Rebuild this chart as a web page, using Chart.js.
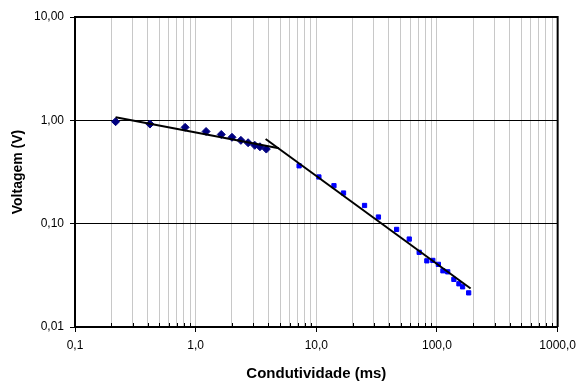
<!DOCTYPE html>
<html>
<head>
<meta charset="utf-8">
<script src="https://cdn.jsdelivr.net/npm/chart.js@4/dist/chart.umd.min.js"></script>
<style>
  html, body { margin: 0; padding: 0; background: #fff; }
  canvas { display: block; }
</style>
</head>
<body>
<canvas id="voltChart" width="582" height="385"></canvas>
<script>
// Measured points, first regime (dark diamonds)
const condA = [0.217, 0.418, 0.818, 1.22, 1.63, 2.0, 2.37, 2.72, 3.09, 3.41, 3.85];
const voltA = [0.97, 0.92, 0.855, 0.78, 0.73, 0.685, 0.64, 0.607, 0.573, 0.555, 0.527];

// Measured points, second regime (blue squares)
const condB = [7.2, 10.5, 14.0, 16.8, 25.1, 32.7, 46.3, 58.9, 71.2, 82.4, 92.3, 102.7, 112, 122.7, 138, 152, 163, 183];
const voltB = [0.363, 0.283, 0.233, 0.198, 0.150, 0.116, 0.088, 0.071, 0.0528, 0.0437, 0.0441, 0.0404, 0.035, 0.0342, 0.0289, 0.0262, 0.0245, 0.0214];

// Power trendline end points for each regime
const trendAx = [0.217, 4.9];
const trendAy = [1.07, 0.536];
const trendBx = [3.8, 190];
const trendBy = [0.659, 0.0236];

// Axis ticks and labels
const xMajor = [0.1, 1, 10, 100, 1000];
const xLabels = ["0,1", "1,0", "10,0", "100,0", "1000,0"];
const yMajor = [0.01, 0.1, 1, 10];
const yLabels = ["0,01", "0,10", "1,00", "10,00"];

function toPoints(xs, ys) {
  return xs.map(function (x, i) {
    return { x: x, y: ys[i] };
  });
}

// minor positions 2..9 inside each decade
const xMinor = [];
xMajor.slice(0, -1).forEach(function (d) {
  for (let k = 2; k <= 9; k++) xMinor.push(+(d * k).toPrecision(3));
});

function isMajor(list, v) {
  return list.some(function (m) {
    return Math.abs(Math.log10(m) - Math.log10(v)) < 1e-6;
  });
}

// frame on top/right and small inside ticks on the x axis
const framePlugin = {
  id: "frame",
  afterDraw: function (chart) {
    const ctx = chart.ctx;
    const a = chart.chartArea;
    const xs = chart.scales.x;
    ctx.save();
    ctx.strokeStyle = "#000";
    ctx.lineWidth = 1;
    ctx.beginPath();
    xMinor.forEach(function (v) {
      const px = Math.round(xs.getPixelForValue(v)) + 0.5;
      ctx.moveTo(px, a.bottom);
      ctx.lineTo(px, a.bottom - 4);
    });
    ctx.stroke();
    ctx.lineWidth = 2;
    ctx.beginPath();
    ctx.moveTo(a.left, a.top);
    ctx.lineTo(a.right, a.top);
    ctx.lineTo(a.right, a.bottom);
    ctx.stroke();
    ctx.restore();
  },
};

const ctx = document.getElementById("voltChart").getContext("2d");
const voltChart = new Chart(ctx, {
  type: "scatter",
  data: {
    datasets: [
      {
        data: toPoints(trendAx, trendAy),
        showLine: true,
        borderColor: "#000",
        borderWidth: 2,
        pointRadius: 0,
        order: 0,
      },
      {
        data: toPoints(trendBx, trendBy),
        showLine: true,
        borderColor: "#000",
        borderWidth: 2,
        pointRadius: 0,
        order: 0,
      },
      {
        data: toPoints(condA, voltA),
        pointStyle: "rectRot",
        pointRadius: 4,
        pointBorderWidth: 1,
        backgroundColor: "#000080",
        borderColor: "#000080",
        order: 1,
      },
      {
        data: toPoints(condB, voltB),
        pointStyle: "rect",
        pointRadius: 3,
        pointBorderWidth: 1,
        backgroundColor: "#0000ff",
        borderColor: "#0000ff",
        order: 1,
      },
    ],
  },
  options: {
    responsive: false,
    animation: false,
    events: [],
    layout: {
      padding: { left: 0, right: 23, top: 17, bottom: 0 },
    },
    plugins: {
      legend: { display: false },
      tooltip: { enabled: false },
    },
    scales: {
      x: {
        type: "logarithmic",
        min: 0.1,
        max: 1000,
        afterBuildTicks: function (scale) {
          scale.ticks = xMajor.concat(xMinor).sort(function (a, b) { return a - b; })
            .map(function (v) { return { value: v }; });
        },
        afterFit: function (scale) {
          scale.height = 58;
        },
        grid: {
          color: "#c8c8c8",
          lineWidth: 1,
          tickLength: 5,
          tickColor: function (c) {
            return isMajor(xMajor, c.tick.value) ? "#000" : "rgba(0,0,0,0)";
          },
        },
        border: { color: "#000", width: 2 },
        ticks: {
          autoSkip: false,
          maxRotation: 0,
          padding: 6,
          color: "#000",
          font: { family: "Liberation Sans", size: 12 },
          callback: function (value) {
            const i = xMajor.findIndex(function (m) { return isMajor([m], value); });
            return i >= 0 ? xLabels[i] : "";
          },
        },
        title: {
          display: true,
          text: "Condutividade (ms)",
          color: "#000",
          font: { family: "Liberation Sans", size: 15, weight: "bold" },
          padding: { top: 0, bottom: 2 },
        },
      },
      y: {
        type: "logarithmic",
        min: 0.01,
        max: 10,
        afterBuildTicks: function (scale) {
          scale.ticks = yMajor.map(function (v) { return { value: v }; });
        },
        afterFit: function (scale) {
          scale.width = 75;
        },
        grid: {
          color: "#000",
          lineWidth: 1,
          tickLength: 5,
          tickColor: "#000",
        },
        border: { color: "#000", width: 2 },
        ticks: {
          autoSkip: false,
          padding: 6,
          color: "#000",
          font: { family: "Liberation Sans", size: 12 },
          callback: function (value) {
            const i = yMajor.findIndex(function (m) { return isMajor([m], value); });
            return i >= 0 ? yLabels[i] : "";
          },
        },
        title: {
          display: true,
          text: "Voltagem (V)",
          color: "#000",
          font: { family: "Liberation Sans", size: 14, weight: "bold" },
          padding: { top: 10, bottom: 0 },
        },
      },
    },
  },
  plugins: [framePlugin],
});
</script>
</body>
</html>
